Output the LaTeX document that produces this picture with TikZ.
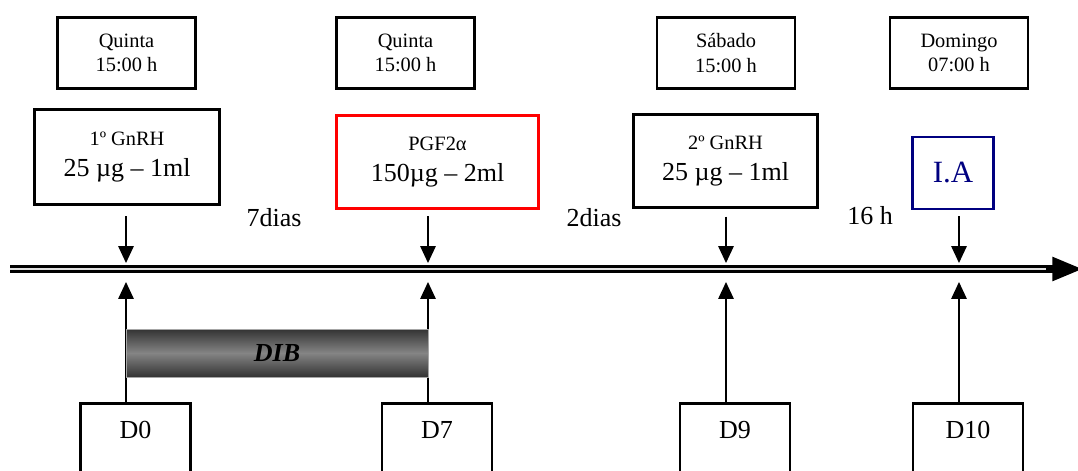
\documentclass[tikz,border=0pt]{standalone}
\usepackage{fontspec}
\setmainfont{Liberation Serif}
\usetikzlibrary{arrows.meta, calc, positioning}
\definecolor{azulia}{RGB}{0,0,128}
\newcommand{\letrapeq}{\fontsize{14.5}{17.5}\selectfont}
\newcommand{\letragr}{\fontsize{18.5}{22}\selectfont}

\begin{document}
\begin{tikzpicture}[
    hora/.style={draw, line width=2pt, minimum width=3.45cm, minimum height=1.775cm, align=center, font=\letrapeq},
    dose/.style={draw, line width=2pt, align=center, font=\letragr},
    dia/.style={draw, line width=2pt, minimum width=2.75cm, anchor=north, text height=0.46cm, text depth=2cm, inner ysep=0.42cm, font=\letragr},
    seta/.style={-{Triangle[length=12pt, width=11pt]}, line width=0.9pt},
    rotulo/.style={font=\letragr}
]
    \useasboundingbox (0,0) rectangle (26.95,-11.775);

    % horarios
    \node[hora] (h1) at (3.1625,-1.325) {Quinta\\15:00 h};
    \node[hora] (h2) at (10.1375,-1.325) {Quinta\\15:00 h};
    \node[hora] (h3) at (18.15,-1.325) {Sábado\\15:00 h};
    \node[hora] (h4) at (23.975,-1.325) {Domingo\\07:00 h};

    % doses
    \node[dose, minimum width=4.625cm, minimum height=2.375cm] (g1) at (3.175,-3.925) {{\letrapeq 1º GnRH}\\25 µg – 1ml};
    \node[dose, draw=red, minimum width=5.05cm, minimum height=2.325cm] (g2) at (10.9375,-4.05) {{\letrapeq PGF2α}\\150µg – 2ml};
    \node[dose, minimum width=4.6cm, minimum height=2.325cm] (g3) at (18.1375,-4.025) {{\letrapeq 2º GnRH}\\25 µg – 1ml};
    \node[dose, draw=azulia, text=azulia, minimum width=2.025cm, minimum height=1.8cm, font=\fontsize{22}{26}\selectfont] (ia) at (23.825,-4.325) {I.A};

    % intervalos
    \node[rotulo] (l7) at (6.85,-5.45) {7dias};
    \node[rotulo] (l2) at (14.85,-5.45) {2dias};
    \node[rotulo] (l16) at (21.75,-5.4) {16 h};

    % linha do tempo
    \coordinate (ini) at (0.25,-6.725);
    \coordinate (fim) at (27.05,-6.725);
    \coordinate (t0) at (3.15,-6.725);
    \coordinate (t7) at (10.7,-6.725);
    \coordinate (t9) at (18.15,-6.725);
    \coordinate (t10) at (23.975,-6.725);
    \draw[line width=1.8pt, double=gray!25, double distance=1.4pt] (ini) -- ([xshift=-0.6cm]fim);
    \draw[-{Triangle[length=21pt, width=17pt]}, line width=1.8pt] ([xshift=-0.9cm]fim) -- (fim);

    % dias
    \node[dia] (d0) at (3.3875,-10.05) {D0};
    \node[dia] (d7) at (10.925,-10.05) {D7};
    \node[dia] (d9) at (18.375,-10.05) {D9};
    \node[dia] (d10) at (24.2,-10.05) {D10};

    % setas
    \draw[seta] ([yshift=-0.26cm]g1.south -| t0) -- ([yshift=0.15cm]t0);
    \draw[seta] ([yshift=-0.16cm]g2.south -| t7) -- ([yshift=0.15cm]t7);
    \draw[seta] ([yshift=-0.19cm]g3.south -| t9) -- ([yshift=0.15cm]t9);
    \draw[seta] ([yshift=-0.15cm]ia.south -| t10) -- ([yshift=0.15cm]t10);
    \draw[seta] (d0.north -| t0) -- ([yshift=-0.325cm]t0);
    \draw[seta] (d7.north -| t7) -- ([yshift=-0.325cm]t7);
    \draw[seta] (d9.north -| t9) -- ([yshift=-0.325cm]t9);
    \draw[seta] (d10.north -| t10) -- ([yshift=-0.325cm]t10);

    % dispositivo
    \node[draw=gray!70, top color=black!80, bottom color=black!80, middle color=black!48,
          minimum width=7.55cm, minimum height=1.2cm, inner sep=0pt,
          font=\letragr\bfseries\itshape] (dib) at ($(t0)!0.5!(t7)+(0,-2.1)$) {DIB};
\end{tikzpicture}
\end{document}
